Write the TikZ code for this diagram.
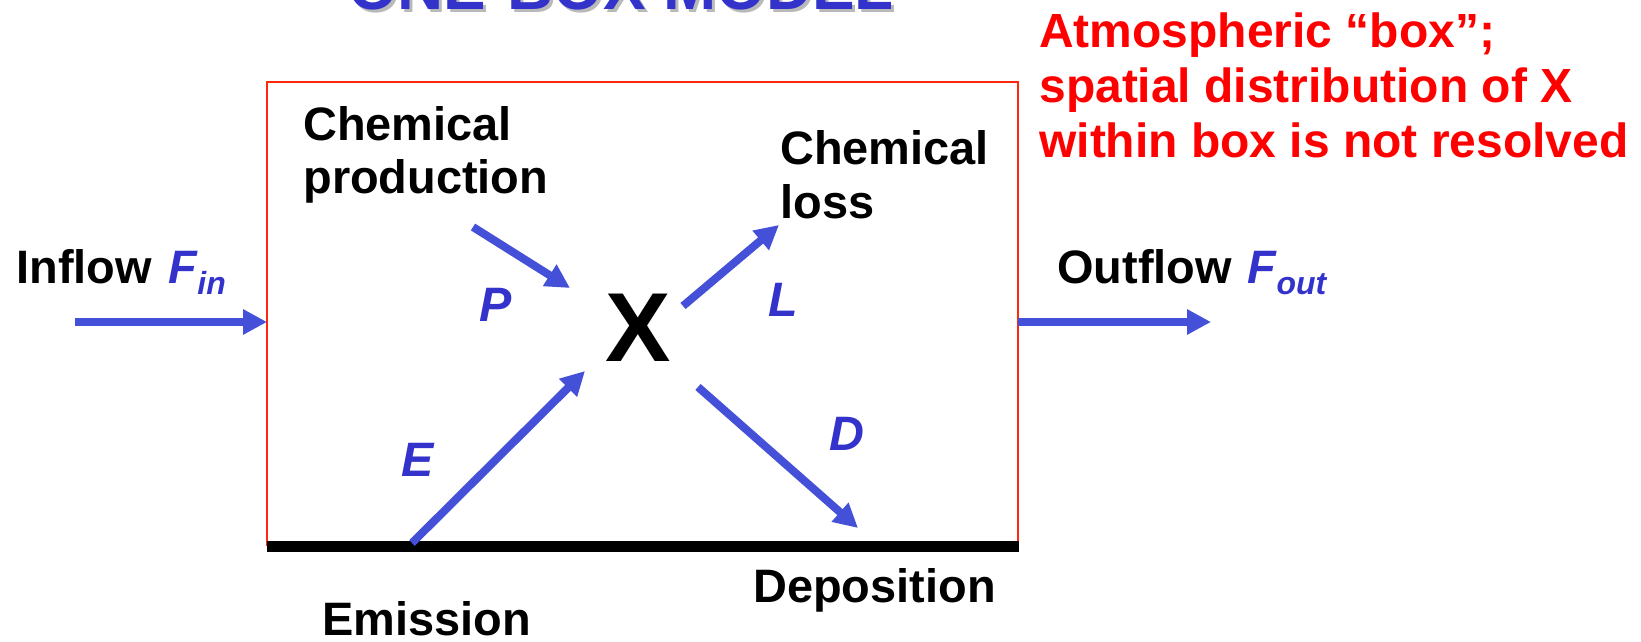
\documentclass[tikz,border=0pt]{standalone}
\usepackage{fontspec}
\setmainfont{Liberation Sans}
\usetikzlibrary{arrows.meta}
\definecolor{arrowblue}{RGB}{68,80,216}
\definecolor{labblue}{RGB}{51,51,204}
\definecolor{boxred}{RGB}{255,40,10}
\definecolor{txtred}{RGB}{255,0,0}
\newcommand{\subs}[1]{\raisebox{-6.8pt}{\fontsize{18.2}{20}\selectfont #1}}
\begin{document}
\begin{tikzpicture}[x=0.02cm,y=-0.02cm,
 txt/.style={inner sep=0, font=\fontsize{26.7}{30.7}\selectfont\bfseries, align=left},
 redtxt/.style={inner sep=0, text=txtred, font=\fontsize{27.3}{31.3}\selectfont\bfseries, align=left},
 lab/.style={inner sep=0, text=labblue, font=\fontsize{27.5}{30}\selectfont\bfseries\itshape},
 bigx/.style={inner sep=0, font=\fontsize{55.8}{60}\selectfont\bfseries},
 titletxt/.style={inner sep=0, font=\fontsize{36.3}{40}\selectfont\bfseries},
 flow/.style={draw=arrowblue, line width=0.16cm, -{Triangle[length=0.48cm,width=0.48cm]}},
]
\useasboundingbox (0,0) rectangle (1641,642);
% title (cut off at top)
\node[titletxt, text=gray!55, anchor=base] (titleshadow) at (624,13) {ONE-BOX MODEL};
\node[titletxt, text=labblue, anchor=base] (title) at (621,10) {ONE-BOX MODEL};
% box
\draw[boxred, line width=0.04cm] (267,82) rectangle (1018,545);
\coordinate (gl) at (267,546);
\coordinate (gr) at (1019,546);
\draw[line width=0.22cm] (gl) -- (gr);
% texts
\node[txt, anchor=base west] (inflow) at (16,283) {Inflow\hspace{0.34cm}\textcolor{labblue}{\itshape F\subs{in}}};
\node[txt, anchor=base west] (outflow) at (1057,283) {Outflow\hspace{0.32cm}\textcolor{labblue}{\itshape F\subs{out}}};
\node[txt, anchor=base west] (prod) at (303,194) {Chemical\\production};
\node[txt, anchor=base west] (loss) at (780,218) {Chemical\\loss};
\node[txt, anchor=base west] (emis) at (322,635) {Emission};
\node[txt, anchor=base west] (depo) at (753,602) {Deposition};
\node[redtxt, anchor=base west] (note) at (1039,157) {Atmospheric “box”;\\spatial distribution of X\\within box is not resolved};
\node[bigx] (X) at (638,328) {X};
\node[lab] (P) at (496,305) {P};
\node[lab] (L) at (783,300) {L};
\node[lab] (E) at (418,460) {E};
\node[lab] (D) at (847,434) {D};
% arrows
\coordinate (inA) at (75,322);
\coordinate (inB) at (267,322);
\coordinate (outA) at (1018,322);
\coordinate (outB) at (1211,322);
\coordinate (pA) at (473,227);
\coordinate (pB) at (570,288);
\coordinate (lA) at (683,306);
\coordinate (lB) at (779,225);
\coordinate (eA) at (412,543);
\coordinate (eB) at (585,371);
\coordinate (dA) at (698,387);
\coordinate (dB) at (858,528);
\draw[flow] (inA) -- (inB);
\draw[flow] (outA) -- (outB);
\draw[flow] (pA) -- (pB);
\draw[flow] (lA) -- (lB);
\draw[flow] (eA) -- (eB);
\draw[flow] (dA) -- (dB);
\end{tikzpicture}
\end{document}
